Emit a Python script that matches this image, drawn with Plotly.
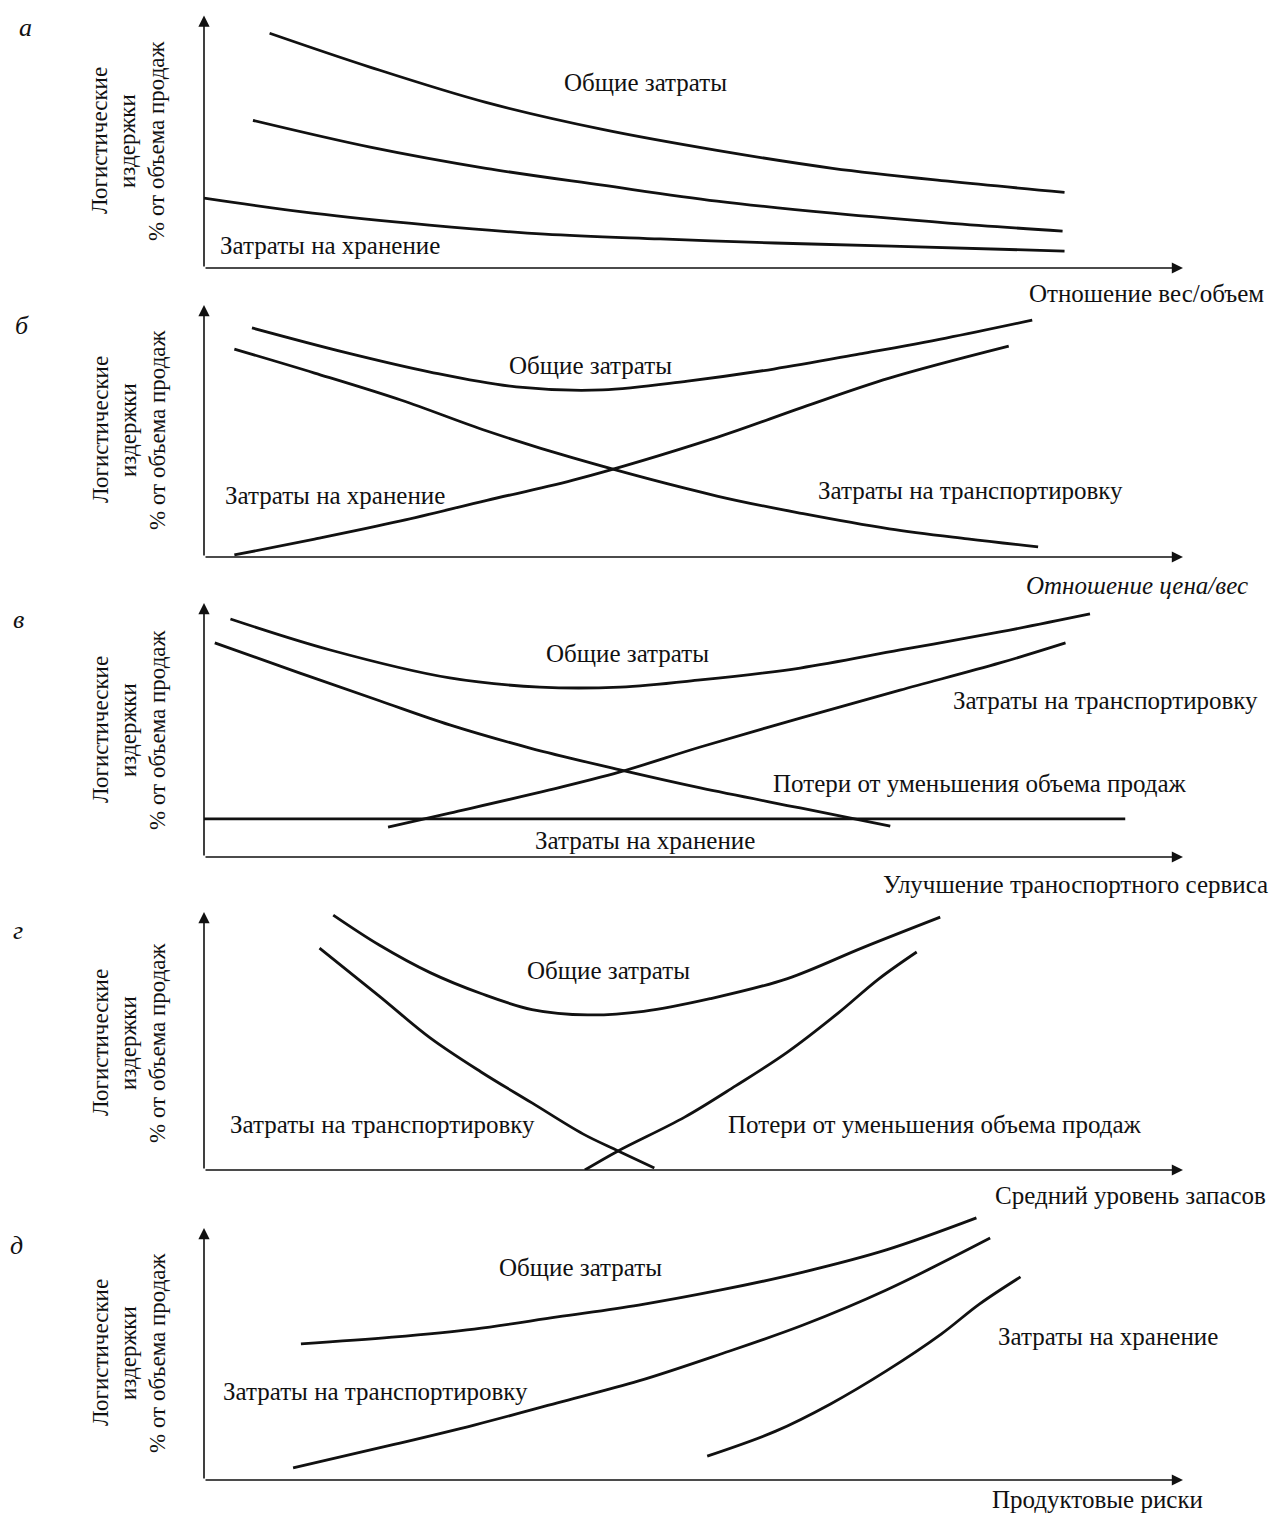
import plotly.graph_objects as go

# ---------------- data (x: 0..100 along the horizontal axis, y: 0..100 up to the arrow tip) -------------
# Panel а — Отношение вес/объем
A_TOTAL_X = [6.7, 17.1, 28.8, 40.7, 52.4, 64.2, 76.0, 87.9]
A_TOTAL_Y = [93.0, 79.4, 65.6, 54.9, 46.6, 39.5, 34.4, 30.0]
A_TRANSPORT_X = [5.0, 17.1, 28.8, 40.7, 52.4, 64.2, 76.0, 87.7]
A_TRANSPORT_Y = [58.5, 47.8, 39.5, 32.8, 26.5, 21.7, 17.8, 14.6]
A_STORAGE_X = [0.0, 11.1, 23.0, 34.8, 46.6, 58.3, 70.2, 87.9]
A_STORAGE_Y = [27.7, 21.7, 17.0, 13.4, 11.5, 9.9, 8.7, 6.7]

# Panel б — Отношение цена/вес
B_TOTAL_X = [4.9, 14.3, 23.1, 31.9, 40.7, 49.4, 58.2, 67.0, 75.8, 84.6]
B_TOTAL_Y = [90.9, 81.3, 73.4, 67.5, 66.3, 69.8, 74.6, 80.6, 86.9, 94.0]
B_TRANSPORT_X = [3.1, 11.3, 20.1, 28.9, 37.7, 52.4, 61.2, 70.0, 78.0, 85.2]
B_TRANSPORT_Y = [82.5, 73.0, 62.3, 50.0, 39.3, 24.2, 17.2, 11.2, 7.2, 4.0]
B_STORAGE_X = [3.1, 11.3, 20.1, 28.9, 37.7, 52.4, 61.2, 70.0, 82.2]
B_STORAGE_Y = [0.8, 7.1, 14.3, 22.5, 30.5, 47.5, 59.5, 71.0, 83.7]

# Panel в — Улучшение транспортного сервиса
V_TOTAL_X = [2.7, 12.9, 25.1, 34.3, 42.5, 50.7, 60.9, 71.1, 81.3, 90.5]
V_TOTAL_Y = [93.7, 81.5, 70.5, 66.9, 66.9, 69.7, 74.4, 81.5, 88.6, 95.7]
V_LOSSES_X = [1.1, 9.8, 18.0, 25.1, 33.3, 42.5, 50.7, 60.9, 70.1]
V_LOSSES_Y = [84.3, 72.4, 61.4, 52.0, 42.9, 34.3, 27.2, 19.3, 12.2]
V_TRANSPORT_X = [18.8, 25.1, 35.3, 42.5, 50.7, 60.9, 71.1, 81.3, 88.0]
V_TRANSPORT_Y = [11.8, 17.3, 26.4, 33.5, 43.3, 54.7, 65.7, 76.4, 84.3]
V_STORAGE_X = [0.0, 94.1]
V_STORAGE_Y = [15.0, 15.0]

# Panel г — Средний уровень запасов
G_TOTAL_X = [13.2, 17.9, 23.1, 28.3, 33.5, 39.2, 44.9, 51.7, 59.6, 67.3, 75.2]
G_TOTAL_Y = [98.8, 87.2, 76.5, 68.4, 62.2, 60.1, 61.5, 66.4, 74.2, 86.2, 98.0]
G_TRANSPORT_X = [11.8, 17.9, 23.1, 28.3, 33.5, 38.7, 42.3, 46.0]
G_TRANSPORT_Y = [86.0, 67.4, 51.2, 38.0, 26.0, 14.0, 7.4, 0.8]
G_LOSSES_X = [38.9, 42.3, 49.1, 54.3, 59.6, 64.8, 68.9, 72.8]
G_LOSSES_Y = [0.0, 7.4, 20.5, 32.6, 45.7, 60.9, 74.0, 84.5]

# Panel д — Продуктовые риски
D_TOTAL_X = [9.9, 19.2, 27.6, 36.1, 44.4, 52.8, 61.2, 69.7, 78.9]
D_TOTAL_Y = [54.0, 56.7, 59.9, 64.7, 69.4, 75.4, 82.5, 91.3, 104.0]
D_TRANSPORT_X = [9.1, 19.2, 27.6, 36.1, 44.4, 52.8, 61.2, 69.7, 80.3]
D_TRANSPORT_Y = [4.8, 13.9, 21.8, 30.6, 39.3, 50.0, 61.5, 75.4, 96.0]
D_STORAGE_X = [51.4, 58.4, 64.0, 69.7, 75.3, 79.2, 83.4]
D_STORAGE_Y = [9.5, 19.4, 30.2, 43.3, 57.9, 69.8, 80.6]

Y_TITLE_LINES = ["Логистические", "издержки", "% от объема продаж"]

# ---------------- layout helpers ----------------
OFF = 8                      # default page margin of the html body
W, H = 1279 - OFF, 1513 - OFF
X_LEFT, X_RIGHT = 204, 1183
FONT = "Liberation Serif"
INK = "#111111"


def px(x):
    return (x - OFF) / W


def py(y):
    return 1 - (y - OFF) / H


panels = [
    dict(letter="а", base=268, tip=15, ymax=103, lpos=(25, 28),
         xtitle="Отношение вес/объем", xt_right=1266, xt_y=293, xt_italic=False,
         curves=[(A_TOTAL_X, A_TOTAL_Y), (A_TRANSPORT_X, A_TRANSPORT_Y), (A_STORAGE_X, A_STORAGE_Y)],
         labels=[("Общие затраты", 645, 82), ("Затраты на хранение", 330, 246)]),
    dict(letter="б", base=557, tip=305, ymax=105, lpos=(22, 325),
         xtitle="Отношение цена/вес", xt_right=1250, xt_y=585, xt_italic=True,
         curves=[(B_TOTAL_X, B_TOTAL_Y), (B_TRANSPORT_X, B_TRANSPORT_Y), (B_STORAGE_X, B_STORAGE_Y)],
         labels=[("Общие затраты", 590, 365), ("Затраты на хранение", 335, 496),
                 ("Затраты на транспортировку", 970, 490)]),
    dict(letter="в", base=857, tip=603, ymax=105, lpos=(18, 620),
         xtitle="Улучшение траноспортного сервиса", xt_right=1270, xt_y=884, xt_italic=False,
         curves=[(V_TOTAL_X, V_TOTAL_Y), (V_LOSSES_X, V_LOSSES_Y), (V_TRANSPORT_X, V_TRANSPORT_Y),
                 (V_STORAGE_X, V_STORAGE_Y)],
         labels=[("Общие затраты", 627, 653), ("Затраты на транспортировку", 1105, 700),
                 ("Потери от уменьшения объема продаж", 980, 783), ("Затраты на хранение", 645, 840)]),
    dict(letter="г", base=1170, tip=912, ymax=105, lpos=(18, 930),
         xtitle="Средний уровень запасов", xt_right=1268, xt_y=1195, xt_italic=False,
         curves=[(G_TOTAL_X, G_TOTAL_Y), (G_TRANSPORT_X, G_TRANSPORT_Y), (G_LOSSES_X, G_LOSSES_Y)],
         labels=[("Общие затраты", 608, 970), ("Затраты на транспортировку", 382, 1124),
                 ("Потери от уменьшения объема продаж", 935, 1124)]),
    dict(letter="д", base=1480, tip=1228, ymax=108, lpos=(16, 1245),
         xtitle="Продуктовые риски", xt_right=1205, xt_y=1499, xt_italic=False,
         curves=[(D_TOTAL_X, D_TOTAL_Y), (D_TRANSPORT_X, D_TRANSPORT_Y), (D_STORAGE_X, D_STORAGE_Y)],
         labels=[("Общие затраты", 580, 1267), ("Затраты на транспортировку", 375, 1391),
                 ("Затраты на хранение", 1108, 1336)]),
]

fig = go.Figure()
annotations = []
layout_axes = {}
TEXT_SIZE = 25


def text_ann(txt, x, y, size, xanchor="center", angle=0):
    return dict(x=px(x), y=py(y), xref="paper", yref="paper", text=txt, showarrow=False,
                xanchor=xanchor, yanchor="middle", textangle=angle,
                font=dict(family=FONT, size=size, color=INK))


for i, p in enumerate(panels, start=1):
    suffix = "" if i == 1 else str(i)
    xref, yref = "x" + suffix, "y" + suffix
    h = p["base"] - p["tip"]
    top_px = p["base"] - h * p["ymax"] / 100
    layout_axes["xaxis" + suffix] = dict(domain=[px(X_LEFT), px(X_RIGHT)], range=[0, 100], visible=False,
                                         anchor=yref, fixedrange=True)
    layout_axes["yaxis" + suffix] = dict(domain=[py(p["base"]), min(1.0, py(top_px))], range=[0, p["ymax"]],
                                         visible=False, anchor=xref, fixedrange=True)
    for cx, cy in p["curves"]:
        fig.add_trace(go.Scatter(x=cx, y=cy, mode="lines", xaxis=xref, yaxis=yref,
                                 line=dict(color=INK, width=2.8, shape="spline", smoothing=1.0),
                                 showlegend=False, hoverinfo="skip"))
    # axes with arrows
    for hx, hy in ((0, 100), (100, 0)):
        annotations.append(dict(x=hx, y=hy, ax=0, ay=0, xref=xref, yref=yref, axref=xref, ayref=yref,
                                text="", showarrow=True, arrowhead=2, arrowsize=1.4, arrowwidth=1.6,
                                arrowcolor=INK))
    # panel letter
    annotations.append(text_ann("<i>" + p["letter"] + "</i>", p["lpos"][0], p["lpos"][1], 26))
    # y title (three rotated lines)
    for line, lx in zip(Y_TITLE_LINES, (100, 128, 157)):
        annotations.append(text_ann(line, lx, p["base"] - 127, 23, angle=-90))
    # x title
    xt = "<i>" + p["xtitle"] + "</i>" if p["xt_italic"] else p["xtitle"]
    annotations.append(text_ann(xt, p["xt_right"], p["xt_y"], 25, xanchor="right"))
    # curve labels
    for txt, lx, ly in p["labels"]:
        annotations.append(text_ann(txt, lx, ly, TEXT_SIZE))

fig.update_layout(width=W, height=H, margin=dict(l=0, r=0, t=0, b=0),
                  paper_bgcolor="white", plot_bgcolor="rgba(0,0,0,0)",
                  annotations=annotations, showlegend=False, **layout_axes)

fig.write_html("out.html", config={"displayModeBar": False})
